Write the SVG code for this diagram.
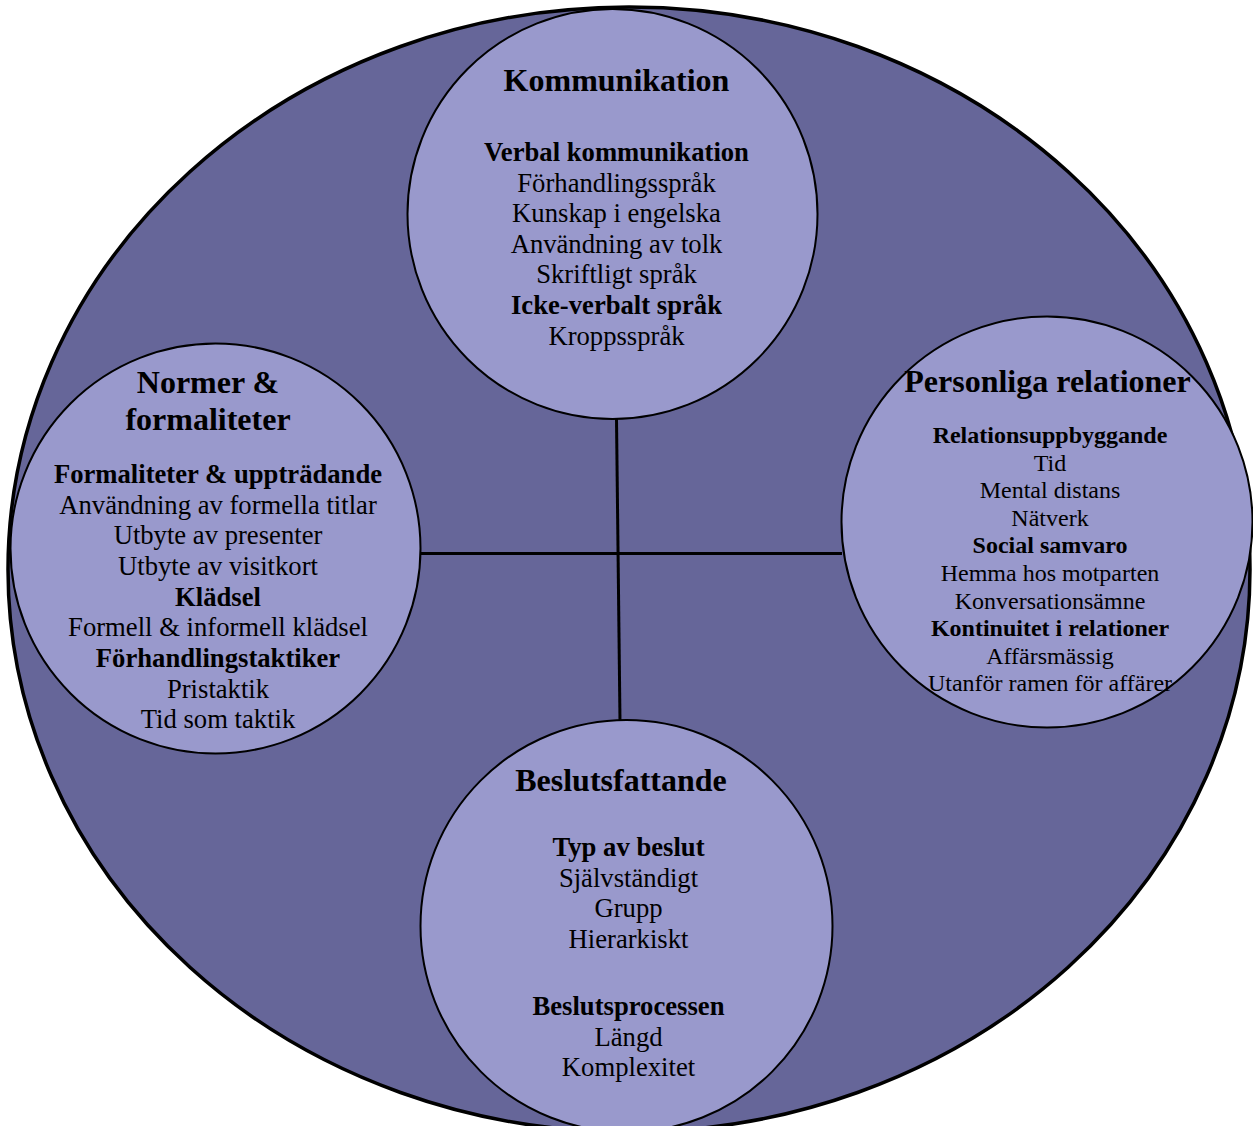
<svg xmlns="http://www.w3.org/2000/svg" width="1253" height="1126" viewBox="0 0 1253 1126">
  <style>
    .outer { fill: #666699; stroke: #000; stroke-width: 3.5; }
    .node { fill: #9999cc; stroke: #000; stroke-width: 2; }
    .link { stroke: #000; stroke-width: 3; fill: none; }
    text { font-family: "Liberation Serif", "Times New Roman", serif; fill: #000; text-anchor: middle; }
    .title { font-size: 32px; font-weight: bold; }
    .head { font-size: 26.67px; font-weight: bold; }
    .item { font-size: 26.67px; }
    .head-s { font-size: 24px; font-weight: bold; }
    .item-s { font-size: 24px; }
  </style>

  <!-- outer frame -->
  <ellipse class="outer" cx="629" cy="569.5" rx="621" ry="562.5"/>

  <!-- connectors -->
  <g id="connectors">
    <line class="link" x1="616.5" y1="419" x2="620" y2="721"/>
    <line class="link" x1="420" y1="553.5" x2="842" y2="553.5"/>
  </g>

  <g id="kommunikation">
    <circle class="node" cx="612.5" cy="214" r="205"/>
    <text class="title" x="616.5" y="91">Kommunikation</text>
    <text class="head" x="616.5" y="161">Verbal kommunikation</text>
    <text class="item" x="616.5" y="191.5">Förhandlingsspråk</text>
    <text class="item" x="616.5" y="222">Kunskap i engelska</text>
    <text class="item" x="616.5" y="252.5">Användning av tolk</text>
    <text class="item" x="616.5" y="283">Skriftligt språk</text>
    <text class="head" x="616.5" y="314">Icke-verbalt språk</text>
    <text class="item" x="616.5" y="344.5">Kroppsspråk</text>
  </g>

  <g id="normer">
    <circle class="node" cx="215.5" cy="548.5" r="205"/>
    <text class="title" x="208" y="393">Normer &amp;</text>
    <text class="title" x="208" y="430">formaliteter</text>
    <text class="head" x="218" y="483">Formaliteter &amp; uppträdande</text>
    <text class="item" x="218" y="513.7">Användning av formella titlar</text>
    <text class="item" x="218" y="544.3">Utbyte av presenter</text>
    <text class="item" x="218" y="575">Utbyte av visitkort</text>
    <text class="head" x="218" y="605.7">Klädsel</text>
    <text class="item" x="218" y="636.3">Formell &amp; informell klädsel</text>
    <text class="head" x="218" y="667">Förhandlingstaktiker</text>
    <text class="item" x="218" y="697.7">Pristaktik</text>
    <text class="item" x="218" y="728.3">Tid som taktik</text>
  </g>

  <g id="personliga">
    <circle class="node" cx="1047" cy="522" r="205.5"/>
    <text class="title" x="1047.5" y="392">Personliga relationer</text>
    <text class="head-s" x="1050" y="443">Relationsuppbyggande</text>
    <text class="item-s" x="1050" y="470.6">Tid</text>
    <text class="item-s" x="1050" y="498.2">Mental distans</text>
    <text class="item-s" x="1050" y="525.8">Nätverk</text>
    <text class="head-s" x="1050" y="553.4">Social samvaro</text>
    <text class="item-s" x="1050" y="581">Hemma hos motparten</text>
    <text class="item-s" x="1050" y="608.6">Konversationsämne</text>
    <text class="head-s" x="1050" y="636.2">Kontinuitet i relationer</text>
    <text class="item-s" x="1050" y="663.8">Affärsmässig</text>
    <text class="item-s" x="1050" y="691.4">Utanför ramen för affärer</text>
  </g>

  <g id="beslutsfattande">
    <circle class="node" cx="626.5" cy="926" r="206"/>
    <text class="title" x="621" y="791">Beslutsfattande</text>
    <text class="head" x="628.5" y="856">Typ av beslut</text>
    <text class="item" x="628.5" y="886.5">Självständigt</text>
    <text class="item" x="628.5" y="917">Grupp</text>
    <text class="item" x="628.5" y="947.5">Hierarkiskt</text>
    <text class="head" x="628.5" y="1015">Beslutsprocessen</text>
    <text class="item" x="628.5" y="1045.5">Längd</text>
    <text class="item" x="628.5" y="1076">Komplexitet</text>
  </g>
</svg>
